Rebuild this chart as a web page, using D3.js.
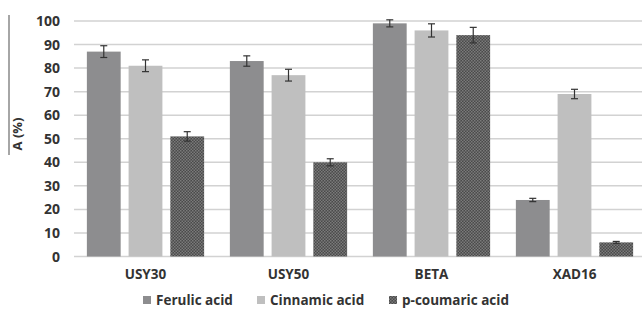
<!DOCTYPE html>
<html><head><meta charset="utf-8">
<script src="https://cdn.jsdelivr.net/npm/d3@7"></script>
<style>body{margin:0;background:#fff}svg{display:block}text{font-family:"Open Sans",sans-serif;font-weight:bold;fill:#333}</style>
</head><body><svg id="c" width="642" height="318"></svg>
<script>
const categories = ["USY30","USY50","BETA","XAD16"];
const seriesNames = ["Ferulic acid","Cinnamic acid","p-coumaric acid"];
const ferulic = [87,83,99,24];
const cinnamic = [81,77,96,69];
const coumaric = [51,40,94,6];
const ferulicErr = [2.5,2.2,1.5,0.7];
const cinnamicErr = [2.5,2.5,2.8,2];
const coumaricErr = [2,1.5,3.3,0.4];
const yTicks = [0,10,20,30,40,50,60,70,80,90,100];

const values = [ferulic, cinnamic, coumaric];
const errs = [ferulicErr, cinnamicErr, coumaricErr];
const fills = ["#8d8d8f","#bfbfbf","url(#hatch)"];

const svg = d3.select("#c");
const defs = svg.append("defs");
const pat = defs.append("pattern").attr("id","hatch").attr("width",3).attr("height",3).attr("patternUnits","userSpaceOnUse");
pat.append("rect").attr("width",3).attr("height",3).attr("fill","#4a4a4a");
pat.append("rect").attr("width",1.5).attr("height",1.5).attr("fill","#7a7a7a");
pat.append("rect").attr("x",1.5).attr("y",1.5).attr("width",1.5).attr("height",1.5).attr("fill","#7a7a7a");

const y = d3.scaleLinear().domain([0,100]).range([256.5,21]);
const x0 = d3.scaleBand().domain(categories).range([74,646]).paddingInner(0.18).paddingOuter(0.09);
const x1 = d3.scaleBand().domain(seriesNames).range([0,x0.bandwidth()]).paddingInner(0.19).paddingOuter(0);

// gridlines
svg.append("g").selectAll("line").data(yTicks).join("line")
  .attr("x1",74).attr("x2",642).attr("y1",d=>y(d)).attr("y2",d=>y(d))
  .attr("stroke","#d2d2d2").attr("stroke-width",1.5);

// y tick labels
svg.append("g").selectAll("text").data(yTicks).join("text")
  .attr("x",60).attr("y",d=>y(d)).attr("dy","0.36em").attr("text-anchor","end")
  .attr("font-size",14).text(d=>d);

// y label and line
svg.append("line").attr("x1",9).attr("x2",9).attr("y1",15).attr("y2",155).attr("stroke","#888").attr("stroke-width",1.5);
svg.append("text").attr("transform","translate(22,134) rotate(-90)").attr("text-anchor","middle")
  .attr("font-size",13).text("A (%)");

// bars
const g = svg.append("g");
categories.forEach((c,i)=>{
  seriesNames.forEach((s,j)=>{
    const bx = x0(c)+x1(s), bw = x1.bandwidth(), v = values[j][i], e = errs[j][i];
    g.append("rect").attr("x",bx).attr("y",y(v)).attr("width",bw).attr("height",y(0)-y(v)).attr("fill",fills[j]);
    const cx = bx+bw/2;
    g.append("line").attr("x1",cx).attr("x2",cx).attr("y1",y(v+e)).attr("y2",y(v-e)).attr("stroke","#333").attr("stroke-width",1.2);
    [v+e,v-e].forEach(t=>g.append("line").attr("x1",cx-3.5).attr("x2",cx+3.5).attr("y1",y(t)).attr("y2",y(t)).attr("stroke","#333").attr("stroke-width",1.2));
  });
});

// category labels
svg.append("g").selectAll("text").data(categories).join("text")
  .attr("x",d=>x0(d)+x0.bandwidth()/2).attr("y",279).attr("text-anchor","middle")
  .attr("font-size",13.5).text(d=>d);

// legend
const legX = [143,257,389];
const leg = svg.append("g");
seriesNames.forEach((s,j)=>{
  leg.append("rect").attr("x",legX[j]).attr("y",296).attr("width",8).attr("height",8).attr("fill",fills[j]);
  leg.append("text").attr("x",legX[j]+13).attr("y",305).attr("font-size",13.5).text(s);
});
</script></body></html>
